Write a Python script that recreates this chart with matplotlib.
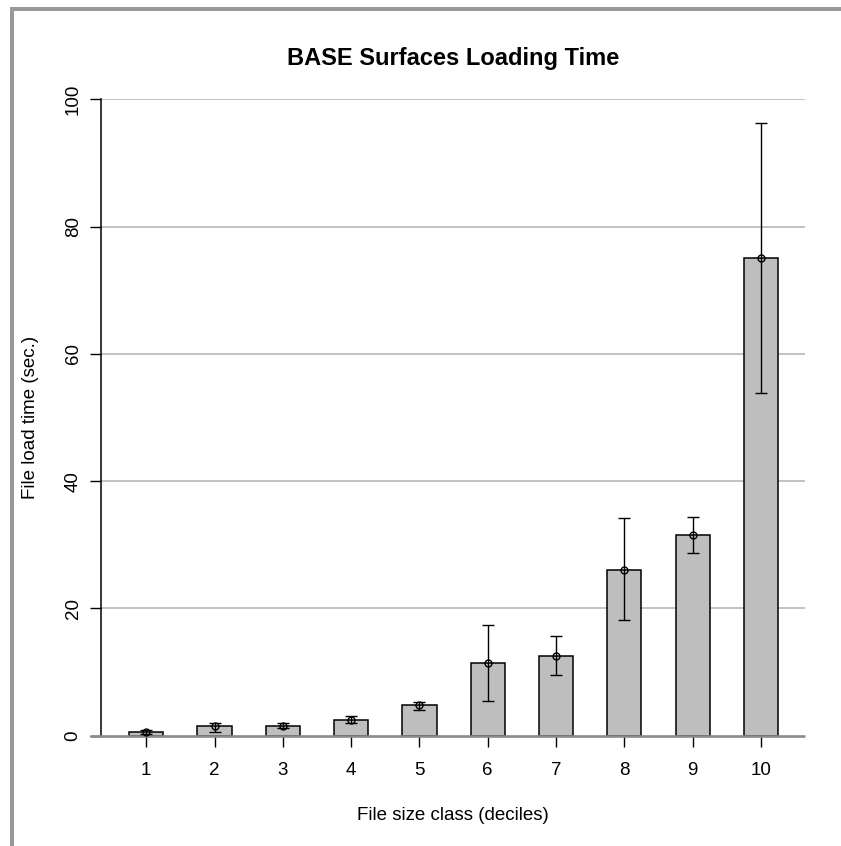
import matplotlib
matplotlib.use("Agg")
import matplotlib.pyplot as plt
from matplotlib.lines import Line2D
import numpy as np

plt.rcParams['font.family'] = ['Liberation Sans', 'DejaVu Sans']

# Data
classes = [1, 2, 3, 4, 5, 6, 7, 8, 9, 10]
means = [0.6, 1.45, 1.58, 2.5, 4.8, 11.5, 12.6, 26.1, 31.5, 75.1]
err_low = [0.3, 0.65, 1.15, 2.05, 4.0, 5.5, 9.5, 18.2, 28.7, 53.9]
err_high = [0.9, 1.95, 2.0, 3.1, 5.35, 17.4, 15.6, 34.2, 34.4, 96.3]
yticks = [0, 20, 40, 60, 80, 100]

W, H = 841, 846
fig = plt.figure(figsize=(W / 100, H / 100), dpi=100)
fig.patch.set_facecolor('white')

# axes placement (pixels)
ax_l, ax_r, ax_top, ax_bot = 101, 805, 99.5, 735.7
ax = fig.add_axes([ax_l / W, 1 - ax_bot / H, (ax_r - ax_l) / W, (ax_bot - ax_top) / H])

xmin, xmax = 0.338, 10.645
ax.set_xlim(xmin, xmax)
ax.set_ylim(0, 100)

x = np.array(classes, dtype=float)
m = np.array(means)
lo = np.array(err_low)
hi = np.array(err_high)

# grid lines
for yt in yticks[1:]:
    ax.axhline(yt, color='#b8b8b8', lw=1.2, zorder=0.5)

ax.bar(x, m, width=0.5, color='#bebebe', edgecolor='black', linewidth=1.1, zorder=2)

# zero line (gray), extends a bit left of the axis
ax.plot([xmin - 11 / 68.3, xmax], [0, 0], color='#8a8a8a', lw=1.9, zorder=3, clip_on=False,
        solid_capstyle='butt')

ax.errorbar(x, m, yerr=[m - lo, hi - m], fmt='o', mfc='none', mec='black', ms=5.0, mew=1.0,
            ecolor='black', elinewidth=1.0, capsize=4.4, capthick=1.0, zorder=4, clip_on=False)

for s in ['top', 'right', 'bottom']:
    ax.spines[s].set_visible(False)
ax.spines['left'].set_color('black')
ax.spines['left'].set_linewidth(1.1)

ax.set_xticks(classes)
ax.set_xticklabels([str(c) for c in classes])
ax.set_yticks(yticks)
ax.set_yticklabels([str(v) for v in yticks])
ax.tick_params(axis='x', length=7.9, width=1.0, color='black', pad=11, labelsize=13.5)
ax.tick_params(axis='y', length=7.9, width=1.0, color='black', pad=6, labelsize=13.5,
               labelrotation=90)
for lab in ax.get_yticklabels():
    lab.set_va('center')

fig.text(453 / W, 1 - 59 / H, 'BASE Surfaces Loading Time', ha='center', va='center',
         fontsize=17, fontweight='bold')
fig.text(453 / W, 1 - 815 / H, 'File size class (deciles)', ha='center', va='center',
         fontsize=13.5)
fig.text(31 / W, 1 - 417.6 / H, 'File load time (sec.)', ha='center', va='center',
         fontsize=13.5, rotation=90)

# outer gray frame (top and left edges)
fig.add_artist(Line2D([10 / W, 1], [1 - 9 / H, 1 - 9 / H], color='#999999', lw=2.9,
                      transform=fig.transFigure, solid_capstyle='butt'))
fig.add_artist(Line2D([11.5 / W, 11.5 / W], [1 - 7 / H, 0], color='#999999', lw=2.9,
                      transform=fig.transFigure, solid_capstyle='butt'))

fig.savefig('out.png', dpi=100)
